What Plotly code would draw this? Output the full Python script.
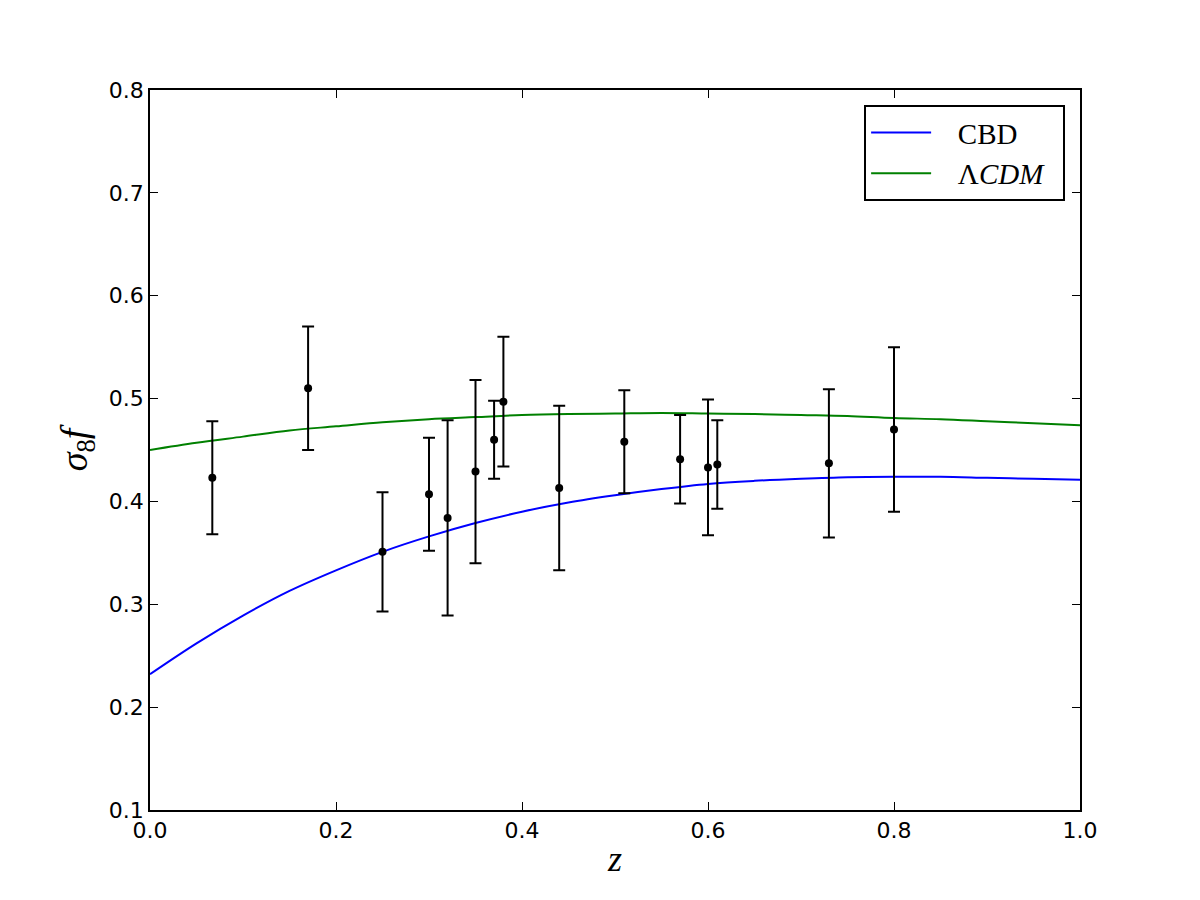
import plotly.graph_objects as go

# Observational data
z_obs = [0.067, 0.17, 0.25, 0.30, 0.32, 0.35, 0.37, 0.38, 0.44, 0.51, 0.57, 0.60, 0.61, 0.73, 0.80]
fs8_obs = [0.423, 0.510, 0.351, 0.407, 0.384, 0.429, 0.460, 0.497, 0.413, 0.458, 0.441, 0.433, 0.436, 0.437, 0.470]
fs8_err = [0.055, 0.060, 0.058, 0.055, 0.095, 0.089, 0.038, 0.063, 0.080, 0.050, 0.043, 0.066, 0.043, 0.072, 0.080]

# Model curves
z_curve = [0.0, 0.05, 0.10, 0.15, 0.20, 0.25, 0.30, 0.35, 0.40, 0.45, 0.50,
           0.55, 0.60, 0.65, 0.70, 0.75, 0.80, 0.85, 0.90, 0.95, 1.00]
cbd_curve = [0.232, 0.262, 0.289, 0.313, 0.333, 0.351, 0.366, 0.379, 0.390, 0.399, 0.406,
             0.412, 0.417, 0.420, 0.422, 0.4235, 0.424, 0.424, 0.423, 0.422, 0.421]
lcdm_curve = [0.450, 0.457, 0.463, 0.469, 0.473, 0.477, 0.480, 0.482, 0.484, 0.485, 0.4855,
              0.486, 0.4855, 0.485, 0.484, 0.483, 0.481, 0.480, 0.478, 0.476, 0.474]

x_ticks = [0.0, 0.2, 0.4, 0.6, 0.8, 1.0]
y_ticks = [0.1, 0.2, 0.3, 0.4, 0.5, 0.6, 0.7, 0.8]

pad = "\u00a0" * 3
tail = "\u00a0" * 2

fig = go.Figure()
fig.add_trace(go.Scatter(x=z_curve, y=cbd_curve, mode="lines", name=pad + "CBD" + tail,
                         line=dict(color="#0000ff", width=2, shape="spline")))
fig.add_trace(go.Scatter(x=z_curve, y=lcdm_curve, mode="lines", name=pad + "Λ<i>CDM</i>" + tail,
                         line=dict(color="#008000", width=2, shape="spline")))
fig.add_trace(go.Scatter(x=z_obs, y=fs8_obs, mode="markers", showlegend=False,
                         marker=dict(color="black", size=8),
                         error_y=dict(type="data", array=fs8_err, visible=True,
                                      color="black", thickness=2, width=6)))

axis_common = dict(showline=True, linecolor="black", linewidth=1.5, mirror="ticks",
                   ticks="inside", ticklen=8, tickwidth=1, tickcolor="black",
                   showgrid=False, zeroline=False,
                   tickfont=dict(family="DejaVu Sans", size=22, color="black"))

fig.update_xaxes(range=[0, 1], tickvals=x_ticks, tickformat=".1f",
                 title=dict(text="<i>z</i>", font=dict(family="Liberation Serif", size=36, color="black"),
                            standoff=4),
                 **axis_common)
fig.update_yaxes(range=[0.1, 0.8], tickvals=y_ticks, tickformat=".1f",
                 title=dict(text="<i>σ</i><sub>8</sub><i>f</i>",
                            font=dict(family="Liberation Serif", size=38, color="black"),
                            standoff=10),
                 **axis_common)

fig.update_layout(
    width=1200, height=900,
    margin=dict(l=150, r=120, t=90, b=90),
    paper_bgcolor="white", plot_bgcolor="white",
    legend=dict(x=0.984, y=0.979, xanchor="right", yanchor="top",
                bordercolor="black", borderwidth=2, bgcolor="white",
                font=dict(family="Liberation Serif", size=29, color="black"),
                itemwidth=60, tracegroupgap=0),
)

fig.write_html("out.html")
